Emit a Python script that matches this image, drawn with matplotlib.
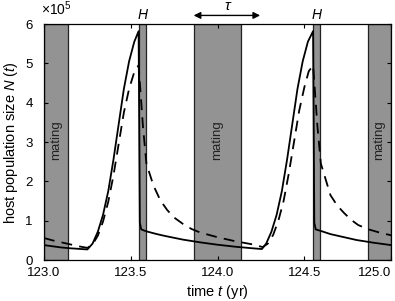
import matplotlib.pyplot as plt

plt.rcParams['font.family'] = ['Liberation Sans', 'DejaVu Sans']
plt.rcParams['mathtext.fontset'] = 'custom'
plt.rcParams['mathtext.rm'] = 'Liberation Sans'
plt.rcParams['mathtext.it'] = 'Liberation Sans:italic'

# mating seasons (start, end) in yr
mating = [(123.0, 123.136), (123.862, 124.135), (124.864, 125.0)]
# harvest windows H
harvest = [(123.547, 123.585), (124.552, 124.588)]
harvest_labels = ['H', 'H']

# solid curve, N in units of 1e5
t_solid = [123.00, 123.05, 123.10, 123.15, 123.20, 123.25, 123.28, 123.31, 123.34,
           123.37, 123.40, 123.43, 123.46, 123.49, 123.52, 123.545, 123.549, 123.552,
           123.56, 123.59, 123.65, 123.70, 123.80, 123.90, 124.00, 124.10, 124.20,
           124.255, 124.28, 124.31, 124.34, 124.37, 124.40, 124.43, 124.46, 124.49,
           124.52, 124.55, 124.554, 124.557, 124.565, 124.595, 124.65, 124.70,
           124.80, 124.90, 125.00]
n_solid = [0.38, 0.35, 0.32, 0.30, 0.285, 0.27, 0.42, 0.72, 1.15,
           1.75, 2.55, 3.45, 4.35, 5.05, 5.55, 5.82, 3.0, 0.95,
           0.78, 0.73, 0.66, 0.61, 0.52, 0.45, 0.39, 0.34, 0.30,
           0.28, 0.42, 0.72, 1.15, 1.75, 2.55, 3.45, 4.35, 5.05,
           5.55, 5.82, 3.0, 0.95, 0.78, 0.74, 0.66, 0.61,
           0.51, 0.44, 0.38]

# dashed curve, N in units of 1e5
t_dash = [123.00, 123.05, 123.10, 123.15, 123.20, 123.25, 123.28, 123.31, 123.34,
          123.37, 123.40, 123.43, 123.46, 123.49, 123.52, 123.545, 123.57, 123.59,
          123.63, 123.67, 123.71, 123.75, 123.80, 123.85, 123.90, 124.00, 124.10,
          124.20, 124.26, 124.29, 124.32, 124.35, 124.38, 124.41, 124.44, 124.47,
          124.50, 124.525, 124.55, 124.575, 124.595, 124.65, 124.69, 124.73,
          124.77, 124.81, 124.87, 124.94, 125.00]
n_dash = [0.56, 0.50, 0.45, 0.40, 0.35, 0.31, 0.40, 0.62, 0.98,
          1.48, 2.15, 2.95, 3.75, 4.35, 4.78, 4.95, 3.4, 2.45,
          1.9, 1.52, 1.27, 1.08, 0.92, 0.79, 0.70, 0.58, 0.48,
          0.40, 0.33, 0.42, 0.64, 1.0, 1.5, 2.2, 3.0, 3.8,
          4.4, 4.8, 4.95, 3.4, 2.45, 1.65, 1.38, 1.19,
          1.02, 0.89, 0.78, 0.69, 0.63]

fig = plt.figure(figsize=(3.95, 3.01), dpi=100)
ax = fig.add_axes([0.1114, 0.136, 0.879, 0.784])

for a, b in mating:
    ax.axvspan(a, b, facecolor='#939393', edgecolor='#222222', linewidth=0.9, zorder=1)
    ax.text((a + b) / 2, 3.05, 'mating', rotation=90, ha='center', va='center',
            fontsize=9.5, color='#222222', zorder=2)
for (a, b), lab in zip(harvest, harvest_labels):
    ax.axvspan(a, b, facecolor='#939393', edgecolor='#222222', linewidth=0.9, zorder=1)
    ax.text((a + b) / 2, 6.22, lab, ha='center', va='center', fontsize=10,
            style='italic', clip_on=False)

ax.plot(t_solid, n_solid, color='black', linewidth=1.3, zorder=3)
ax.plot(t_dash, n_dash, color='black', linewidth=1.3, linestyle=(0, (6, 4)), zorder=3)

# tau arrow
ax.annotate('', xy=(123.862, 6.22), xytext=(124.245, 6.22), annotation_clip=False,
            arrowprops=dict(arrowstyle='<|-|>', color='black', linewidth=1.0,
                            mutation_scale=10, shrinkA=0, shrinkB=0))
ax.text(124.06, 6.45, r'$\tau$', ha='center', va='center', fontsize=11)

ax.set_xlim(123.0, 125.0)
ax.set_ylim(0, 6)
ax.set_xticks([123.0, 123.5, 124.0, 124.5, 125.0])
ax.set_xticklabels(['123.0', '123.5', '124.0', '124.5', '125.0'])
ax.get_xticklabels()[-1].set_horizontalalignment('right')
ax.set_yticks([0, 1, 2, 3, 4, 5, 6])
ax.tick_params(direction='in', top=True, right=True, length=3, width=0.8,
               labelsize=9.5)
ax.tick_params(axis='x', pad=5)
ax.tick_params(axis='y', pad=8)
for s in ax.spines.values():
    s.set_linewidth(0.9)
    s.set_zorder(4)

ax.set_xlabel(r'time $t$ (yr)', fontsize=10.5, labelpad=3)
ax.set_ylabel(r'host population size $N$ $(t)$', fontsize=10.5, labelpad=4)
fig.text(0.104, 0.972, r'$\times\mathregular{10^5}$', fontsize=10, ha='left', va='center')

plt.savefig('out.png', dpi=100)
